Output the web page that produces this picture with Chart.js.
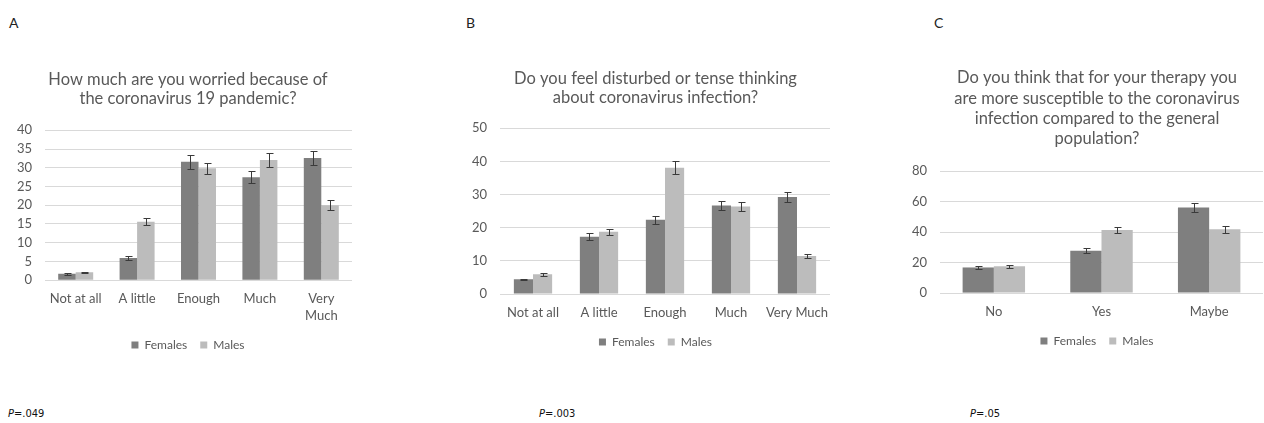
<!DOCTYPE html>
<html>
<head>
<meta charset="utf-8">
<script src="https://cdn.jsdelivr.net/npm/chart.js@4.4.1/dist/chart.umd.min.js"></script>
<style>
  body { margin: 0; background: #fff; width: 1264px; height: 423px; overflow: hidden; position: relative; font-family: Lato, "Open Sans", sans-serif; }
  .box { position: absolute; }
  .letter { position: absolute; font-size: 14px; color: #222; }
  .pval { position: absolute; font-family: "Liberation Sans Narrow", "DejaVu Sans Condensed", sans-serif; font-size: 11px; color: #111; top: 407px; }
</style>
</head>
<body>
<div class="letter" style="left:9px;top:14px">A</div>
<div class="letter" style="left:466px;top:14px">B</div>
<div class="letter" style="left:934px;top:14px">C</div>

<div class="box" style="left:0px;top:68px;width:376px;height:293px"><canvas id="chartA"></canvas></div>
<div class="box" style="left:452px;top:67px;width:407px;height:291px"><canvas id="chartB"></canvas></div>
<div class="box" style="left:900px;top:66px;width:394px;height:291px"><canvas id="chartC"></canvas></div>

<div class="pval" style="left:8px"><i>P</i>=.049</div>
<div class="pval" style="left:539px"><i>P</i>=.003</div>
<div class="pval" style="left:970px"><i>P</i>=.05</div>

<script>
// panel A
const titleA = ['How much are you worried because of', 'the coronavirus 19 pandemic?']
const catsA = ['Not at all', 'A little', 'Enough', 'Much', ['Very', 'Much']]
const femalesA = [1.7, 5.9, 31.6, 27.5, 32.6]
const femalesErrA = [0.2, 0.5, 1.9, 1.6, 1.9]
const malesA = [2.1, 15.6, 29.9, 32.1, 20.0]
const malesErrA = [0.2, 0.9, 1.5, 1.8, 1.4]
const ticksA = { max: 40, step: 5 }

// panel B
const titleB = ['Do you feel disturbed or tense thinking', 'about coronavirus infection?']
const catsB = ['Not at all', 'A little', 'Enough', 'Much', 'Very Much']
const femalesB = [4.5, 17.3, 22.4, 26.7, 29.3]
const femalesErrB = [0.2, 1.0, 1.3, 1.3, 1.6]
const malesB = [6.0, 18.8, 38.1, 26.4, 11.5]
const malesErrB = [0.5, 0.9, 1.9, 1.4, 0.7]
const ticksB = { max: 50, step: 10 }

// panel C
const titleC = ['Do you think that for your therapy you', 'are more susceptible to the coronavirus', 'infection compared to the general', 'population?']
const catsC = ['No', 'Yes', 'Maybe']
const femalesC = [16.8, 27.8, 56.1]
const femalesErrC = [1.0, 1.5, 3.0]
const malesC = [17.6, 41.3, 41.9]
const malesErrC = [1.0, 2.0, 2.2]
const ticksC = { max: 80, step: 20 }

const darkGray = '#7f7f7f'
const lightGray = '#bcbcbc'
const textGray = '#595959'

const errorBars = {
    id: 'errorBars',
    afterDatasetsDraw(chart) {
        const ctx = chart.ctx
        const y = chart.scales.y
        ctx.save()
        ctx.strokeStyle = '#3a3a3a'
        ctx.lineWidth = 1
        chart.data.datasets.forEach((ds, i) => {
            chart.getDatasetMeta(i).data.forEach((bar, j) => {
                const top = Math.round(y.getPixelForValue(ds.data[j] + ds.errors[j])) + 0.5
                const bot = Math.round(y.getPixelForValue(ds.data[j] - ds.errors[j])) + 0.5
                const x = Math.round(bar.x) + 0.5
                ctx.beginPath()
                ctx.moveTo(x, top); ctx.lineTo(x, bot)
                ctx.moveTo(x - 3, top); ctx.lineTo(x + 4, top)
                ctx.moveTo(x - 3, bot); ctx.lineTo(x + 4, bot)
                ctx.stroke()
            })
        })
        ctx.restore()
    }
}

function makeChart(id, title, cats, fem, femErr, mal, malErr, ticks, pct, yWidth, rightPad, titleLh, titleGap) {
    return new Chart(document.getElementById(id), {
        type: 'bar',
        data: {
            labels: cats,
            datasets: [
                { label: 'Females', data: fem, errors: femErr, backgroundColor: darkGray, categoryPercentage: pct, barPercentage: 1 },
                { label: 'Males', data: mal, errors: malErr, backgroundColor: lightGray, categoryPercentage: pct, barPercentage: 1 }
            ]
        },
        options: {
            responsive: true,
            maintainAspectRatio: false,
            animation: false,
            layout: { padding: 0 },
            plugins: {
                title: {
                    display: true, text: title, color: textGray,
                    font: { family: 'Lato', size: 16.5, weight: 'normal', lineHeight: titleLh },
                    padding: { top: 2, bottom: titleGap }
                },
                legend: {
                    position: 'bottom',
                    labels: { color: textGray, font: { family: 'Lato', size: 12 }, boxWidth: 7, boxHeight: 7, padding: 13 }
                },
                tooltip: { enabled: false }
            },
            scales: {
                x: {
                    grid: { display: false },
                    border: { display: false },
                    ticks: { color: textGray, font: { family: 'Lato', size: 13, lineHeight: 1.3 }, maxRotation: 0, autoSkip: false, padding: 2 }
                },
                y: {
                    min: 0,
                    max: ticks.max,
                    afterFit: (s) => { s.width = yWidth },
                    grid: { color: '#d9d9d9', drawTicks: false },
                    border: { display: false },
                    ticks: { stepSize: ticks.step, color: textGray, font: { family: 'Lato', size: 13 }, padding: 13 }
                },
                // empty spacer on the right so the title stays centred on the whole panel
                spacer: {
                    type: 'linear',
                    position: 'right',
                    grid: { display: false, drawTicks: false },
                    border: { display: false },
                    ticks: { display: false },
                    afterFit: (s) => { s.width = rightPad }
                }
            }
        },
        plugins: [errorBars]
    })
}

makeChart('chartA', titleA, catsA, femalesA, femalesErrA, malesA, malesErrA, ticksA, 0.57, 45, 24, 1.16, 22)
makeChart('chartB', titleB, catsB, femalesB, femalesErrB, malesB, malesErrB, ticksB, 0.58, 48, 29, 1.16, 21)
makeChart('chartC', titleC, catsC, femalesC, femalesErrC, malesC, malesErrC, ticksC, 0.58, 40, 31, 1.22, 22.5)
</script>
</body>
</html>
